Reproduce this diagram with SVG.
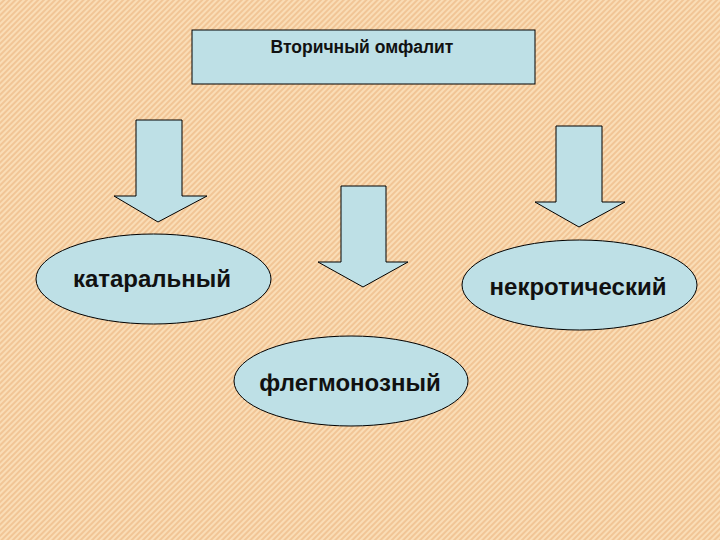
<svg xmlns="http://www.w3.org/2000/svg" width="720" height="540" viewBox="0 0 720 540">
<defs>
<pattern id="bg" patternUnits="userSpaceOnUse" width="4" height="4" patternTransform="rotate(45)">
<rect width="4" height="4" fill="#F1C596"/>
<rect width="2" height="4" fill="#FADDB6"/>
</pattern>
<style>
.shape{fill:#BEE0E6;stroke:#000;stroke-width:1}
.t{font-family:"Liberation Sans",Arial,sans-serif;font-weight:bold;fill:#111;text-anchor:middle}
</style>
</defs>
<rect width="720" height="540" fill="url(#bg)"/>
<g id="title">
<rect class="shape" x="192" y="30" width="343" height="54"/>
<text class="t" x="362" y="53" font-size="17.5">Вторичный омфалит</text>
</g>
<g id="connectors">
<polygon class="shape" points="136,120 182,120 182,196 207,196 158,222 114,196 136,196"/>
<polygon class="shape" points="341,186 386,186 386,262 408,262 363,287 318,262 341,262"/>
<polygon class="shape" points="556,126 602,126 602,202 625,202 579,227 535,202 556,202"/>
</g>
<g id="kataralnyi">
<ellipse class="shape" cx="153.5" cy="279" rx="117.5" ry="45"/>
<text class="t" x="152" y="287" font-size="24">катаральный</text>
</g>
<g id="nekroticheskii">
<ellipse class="shape" cx="579.5" cy="285" rx="117.5" ry="45"/>
<text class="t" x="578" y="295" font-size="24">некротический</text>
</g>
<g id="flegmonoznyi">
<ellipse class="shape" cx="351" cy="381" rx="117" ry="45"/>
<text class="t" x="350" y="391" font-size="24">флегмонозный</text>
</g>
</svg>
